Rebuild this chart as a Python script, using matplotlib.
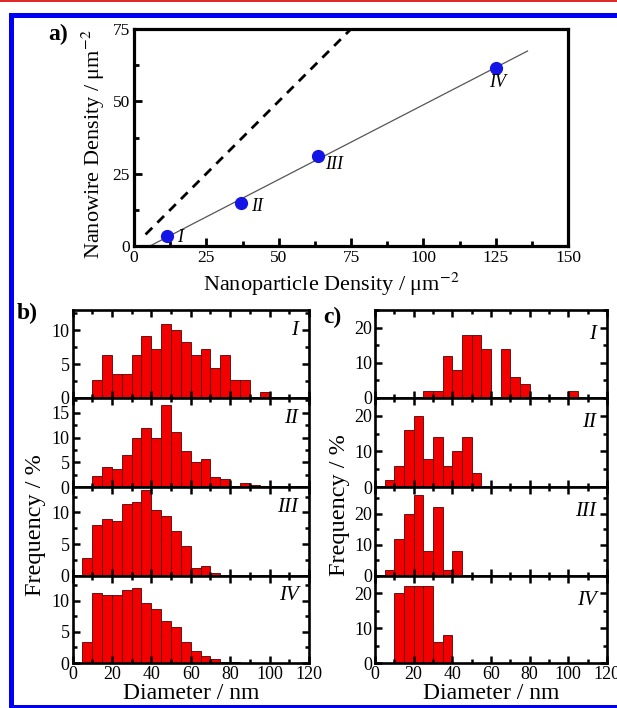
import matplotlib

matplotlib.use("Agg")
import matplotlib.pyplot as plt  # noqa: E402
import numpy as np  # noqa: E402
from matplotlib.patches import Rectangle  # noqa: E402
from matplotlib.ticker import MultipleLocator  # noqa: E402

plt.rcParams["font.family"] = ["Liberation Serif", "DejaVu Serif"]
plt.rcParams["mathtext.fontset"] = "stix"

W, H = 617, 708

# panel a: nanowire vs nanoparticle density
np_density = [11.5, 37.0, 63.5, 125.0]
nw_density = [3.5, 15.0, 31.0, 61.5]
sample_names = ["I", "II", "III", "IV"]
one_to_one_x = [4.0, 75.0]
fit_x_end = 136.0

# panels b/c: diameter histograms (5 nm bins, centres)
diam_bins = np.arange(2.5, 120, 5)
b_I = [0, 0, 2.7, 6.4, 3.6, 3.6, 6.4, 9.1, 7.3, 10.9, 10.0, 8.2, 6.4, 7.3, 4.5, 6.4, 2.7, 2.7, 0, 0.9, 0, 0, 0, 0]
b_II = [0, 0, 2.2, 4.1, 3.7, 6.5, 9.9, 12.0, 9.9, 16.5, 11.1, 7.3, 5.1, 5.6, 2.0, 1.7, 0.2, 0.9, 0.5, 0.3, 0.2, 0.1, 0.2, 0.2]
b_III = [0, 2.9, 8.0, 9.0, 8.7, 11.4, 11.7, 13.5, 10.4, 9.4, 7.1, 4.7, 1.2, 1.6, 0.4, 0, 0, 0, 0, 0.2, 0, 0, 0, 0]
b_IV = [0, 3.3, 11.3, 10.9, 10.9, 11.8, 12.1, 9.7, 8.7, 6.8, 5.8, 3.4, 1.9, 1.2, 0.7, 0.2, 0.1, 0, 0, 0, 0, 0, 0, 0]
c_I = [0, 0, 0, 0, 0, 2, 2, 12, 8, 18, 18, 14, 0, 14, 6, 4, 0, 0, 0, 0, 2, 0, 0, 0]
c_II = [0, 2, 6, 16, 20, 8, 14, 6, 10, 14, 4, 0, 0, 0, 0, 0, 0, 0, 0, 0, 0, 0, 0, 0]
c_III = [0, 2, 12, 20, 26, 8, 22, 2, 8, 0, 0, 0, 0, 0, 0, 0, 0, 0, 0, 0, 0, 0, 0, 0]
c_IV = [0, 0, 20, 22, 22, 22, 6, 8, 0, 0, 0, 0, 0, 0, 0, 0, 0, 0, 0, 0, 0, 0, 0, 0]
b_ylims = [13, 18, 14, 14]
c_ylims = [25, 25, 28.5, 25]

RED = "#f20000"
BLUE = "#1414e6"


def px_rect(left, top, right, bottom):
    return [left / W, 1 - bottom / H, (right - left) / W, (bottom - top) / H]


fig = plt.figure(figsize=(W / 100, H / 100), dpi=100)

# frame decoration
deco = fig.add_axes([0, 0, 1, 1])
deco.set_xlim(0, W)
deco.set_ylim(H, 0)
deco.axis("off")
deco.add_patch(Rectangle((0, 0), W, 2, color="#e02a2a", lw=0))
deco.add_patch(Rectangle((9, 13), W, 5, color="#0000f5", lw=0))
deco.add_patch(Rectangle((9, 13), 5, H, color="#0000f5", lw=0))
deco.add_patch(Rectangle((9, 705), W, 3, color="#0000f5", lw=0))

# ---- panel a
ax = fig.add_axes(px_rect(134, 29, 568, 246))
slope, icpt = np.polyfit(np_density, nw_density, 1)
fx = np.array([-icpt / slope, fit_x_end])
ax.plot(fx, slope * fx + icpt, color="#555555", lw=0.9, zorder=2)
ax.plot(one_to_one_x, one_to_one_x, color="black", lw=2.0, ls=(0, (3.4, 2.6)), zorder=2)
ax.plot(np_density, nw_density, "o", color=BLUE, ms=8.5, zorder=3)
offsets = [(4.5, -0.5), (5.5, -1.5), (5.5, -3.0), (0.5, -5.0)]
for x, y, name, (dx, dy) in zip(np_density, nw_density, sample_names, offsets):
    ax.text(x + dx, y + dy, name, fontsize=13, style="italic", ha="center", va="center")
ax.set_xlim(0, 150)
ax.set_ylim(0, 75)
ax.xaxis.set_major_locator(MultipleLocator(25))
ax.xaxis.set_minor_locator(MultipleLocator(12.5))
ax.yaxis.set_major_locator(MultipleLocator(25))
ax.yaxis.set_minor_locator(MultipleLocator(12.5))
ax.tick_params(which="both", direction="in", width=2, labelsize=12.5, pad=3)
ax.tick_params(which="major", length=6)
ax.tick_params(which="minor", length=3.5)
for sp in ax.spines.values():
    sp.set_linewidth(2.3)
ax.set_xlabel("Nanoparticle Density / μm$^{-2}$", fontsize=16)
ax.xaxis.set_label_coords(0.455, -0.112)
ax.set_ylabel("Nanowire Density / μm$^{-2}$", fontsize=16)
ax.yaxis.set_label_coords(-0.063, 0.47)
fig.text(48 / W, 1 - 34 / H, "a)", fontsize=17, fontweight="bold", ha="left", va="center")

# ---- panels b and c
rows = [310, 398, 487, 576, 663]
panels = [
    (72.5, 309, [b_I, b_II, b_III, b_IV], b_ylims, 5, 2.5, 0.88),
    (375, 607, [c_I, c_II, c_III, c_IV], c_ylims, 10, 5, 0.83),
]
for left, right, series, ylims, major, minor, name_y in panels:
    for i, (vals, ymax) in enumerate(zip(series, ylims)):
        axh = fig.add_axes(px_rect(left, rows[i], right, rows[i + 1]))
        vals = np.asarray(vals, dtype=float)
        keep = vals > 0
        axh.bar(diam_bins[keep], vals[keep], width=5, color=RED, edgecolor="#5a0000", linewidth=0.6)
        axh.set_xlim(0, 120)
        axh.set_ylim(0, ymax)
        axh.xaxis.set_major_locator(MultipleLocator(20))
        axh.xaxis.set_minor_locator(MultipleLocator(10))
        axh.yaxis.set_major_locator(MultipleLocator(major))
        axh.yaxis.set_minor_locator(MultipleLocator(minor))
        axh.tick_params(which="both", direction="in", top=True, right=True, width=1.8, labelsize=13, pad=2)
        axh.tick_params(which="major", length=5)
        axh.tick_params(which="minor", length=3)
        for sp in axh.spines.values():
            sp.set_linewidth(1.9)
        axh.text(0.955, name_y, sample_names[i], transform=axh.transAxes, fontsize=15, style="italic",
                 ha="right", va="top")
        if i < 3:
            axh.tick_params(labelbottom=False)
        else:
            axh.set_xlabel("Diameter / nm", fontsize=17, labelpad=0)

fig.text(36 / W, 1 - 525 / H, "Frequency / %", fontsize=17.5, rotation=90, ha="center", va="center")
fig.text(339 / W, 1 - 505 / H, "Frequency / %", fontsize=17.5, rotation=90, ha="center", va="center")
fig.text(17 / W, 1 - 313 / H, "b)", fontsize=17, fontweight="bold", ha="left", va="center")
fig.text(323 / W, 1 - 317 / H, "c)", fontsize=17, fontweight="bold", ha="left", va="center")

fig.savefig("out.png", dpi=100)
